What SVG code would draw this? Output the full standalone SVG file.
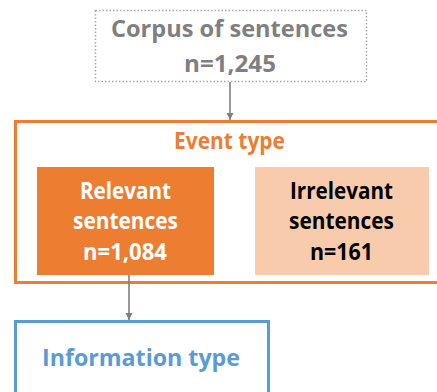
<svg xmlns="http://www.w3.org/2000/svg" width="437" height="392" viewBox="0 0 437 392">
  <style>
    text { font-family: "Open Sans", "Noto Sans", "Liberation Sans", sans-serif; font-weight: 700; font-size: 23px; text-anchor: middle; }
    .gray { fill: #7f7f7f; }
    .orange { fill: #ED7D31; }
    .white { fill: #ffffff; }
    .black { fill: #000000; }
    .blue { fill: #5B9BD5; }
    .conn { stroke: #7f7f7f; stroke-width: 1.6; fill: none; }
  </style>
  <defs>
    <marker id="arrow" markerWidth="8" markerHeight="8" refX="7" refY="4" orient="auto" markerUnits="userSpaceOnUse">
      <path d="M0,0.5 L7,4 L0,7.5 Z" fill="#7f7f7f"/>
    </marker>
  </defs>
  <rect width="437" height="392" fill="#ffffff"/>

  <g id="corpus">
    <rect x="95.5" y="10.5" width="271" height="71" fill="#ffffff" stroke="#a6a6a6" stroke-width="1.5" stroke-dasharray="1.5 2"/>
    <text class="gray" x="229.5" y="37" textLength="237" lengthAdjust="spacingAndGlyphs">Corpus of sentences</text>
    <text class="gray" x="230" y="72" textLength="92" lengthAdjust="spacingAndGlyphs">n=1,245</text>
  </g>

  <g id="event-type">
    <rect x="15.5" y="121.5" width="440" height="161" fill="#ffffff" stroke="#ED7D31" stroke-width="3"/>
    <text class="orange" x="229.5" y="149" textLength="111" lengthAdjust="spacingAndGlyphs">Event type</text>
  </g>

  <g id="relevant">
    <rect x="37" y="167" width="177" height="108" fill="#ED7D31"/>
    <text class="white" x="125.5" y="199" textLength="91" lengthAdjust="spacingAndGlyphs">Relevant</text>
    <text class="white" x="125.5" y="229" textLength="105" lengthAdjust="spacingAndGlyphs">sentences</text>
    <text class="white" x="125" y="260" textLength="84" lengthAdjust="spacingAndGlyphs">n=1,084</text>
  </g>

  <g id="irrelevant">
    <rect x="255" y="167" width="174" height="108" fill="#F8CBAD"/>
    <text class="black" x="341.5" y="199" textLength="103" lengthAdjust="spacingAndGlyphs">Irrelevant</text>
    <text class="black" x="341.5" y="229" textLength="105" lengthAdjust="spacingAndGlyphs">sentences</text>
    <text class="black" x="341.5" y="260" textLength="63" lengthAdjust="spacingAndGlyphs">n=161</text>
  </g>

  <g id="information-type">
    <rect x="15.5" y="321.5" width="253" height="90" fill="#ffffff" stroke="#5B9BD5" stroke-width="3"/>
    <text class="blue" x="141" y="366" textLength="198" lengthAdjust="spacingAndGlyphs">Information type</text>
  </g>

  <g id="connectors">
    <line class="conn" x1="230" y1="82" x2="230" y2="120" marker-end="url(#arrow)"/>
    <line class="conn" x1="129" y1="275" x2="129" y2="320" marker-end="url(#arrow)"/>
  </g>
</svg>
